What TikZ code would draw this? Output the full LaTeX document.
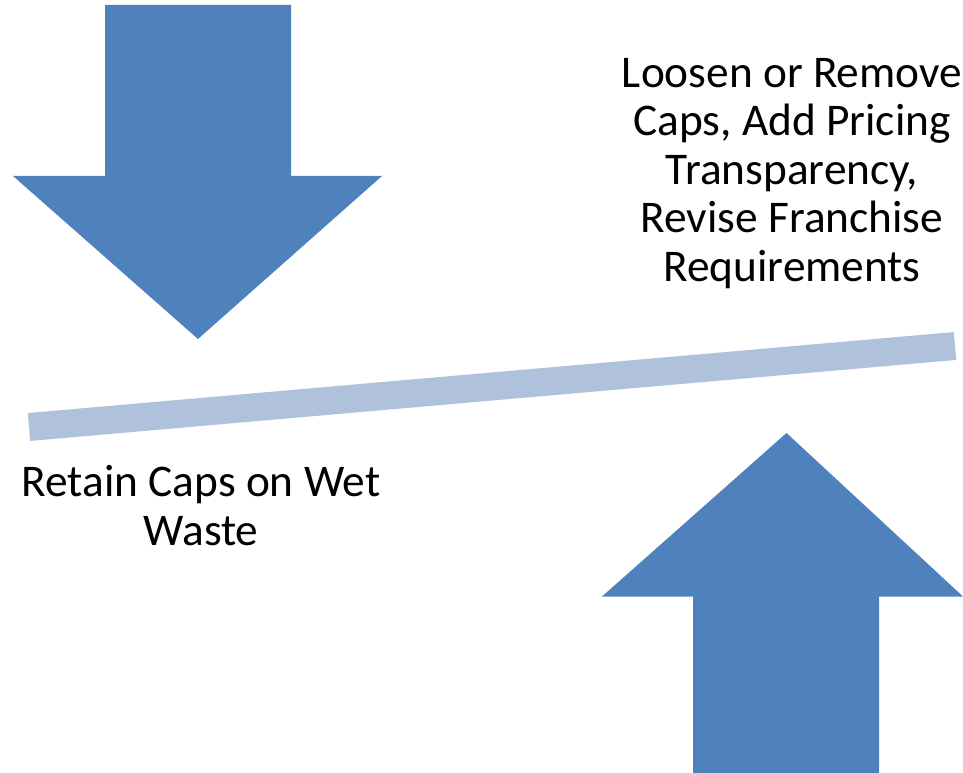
\documentclass[tikz,border=0pt]{standalone}
\usepackage{fontspec}
\setmainfont{Carlito}
\usepackage{xcolor}
\usetikzlibrary{positioning}
\definecolor{arrowblue}{HTML}{4F81BD}
\definecolor{barblue}{HTML}{B0C1DC}

\begin{document}
\begin{tikzpicture}[every node/.style={font=\fontsize{25.8}{27.6}\selectfont}]
  \def\W{19.26}
  \def\H{15.44}
  \tikzset{
    bigarrow/.style={fill=arrowblue, draw=none},
    beam/.style={draw=barblue, line width=0.56cm, line cap=butt},
    choice/.style={align=center, anchor=base, inner sep=0pt},
  }
  \useasboundingbox (0,0) rectangle (\W,\H);

  %% ===== Down arrow (left) =====
  \fill[bigarrow] (2.10,15.34) -- (5.82,15.34) -- (5.82,11.92) -- (7.64,11.92)
    -- (3.96,8.66) -- (0.26,11.92) -- (2.10,11.92) -- cycle;

  %% ===== Up arrow (right), cut by the bottom edge =====
  \begin{scope}
    \clip (0,0) rectangle (\W,\H);
    \fill[bigarrow] (13.86,-0.2) -- (17.58,-0.2) -- (17.58,3.51) -- (19.26,3.51)
      -- (15.73,6.78) -- (12.04,3.51) -- (13.86,3.51) -- cycle;
  \end{scope}

  %% ===== Tilted beam =====
  \coordinate (beamL) at (0.58,6.90);
  \coordinate (beamR) at (19.10,8.52);
  \draw[beam] (beamL) -- (beamR);

  %% ===== Labels (anchored on the last line) =====
  \node[choice] (loosen) at (15.84,9.81)
    {Loosen or Remove\\Caps, Add Pricing\\Transparency,\\Revise Franchise\\Requirements};
  \node[choice] (retain) at (4.02,4.53) {Retain Caps on Wet\\Waste};
\end{tikzpicture}
\end{document}
